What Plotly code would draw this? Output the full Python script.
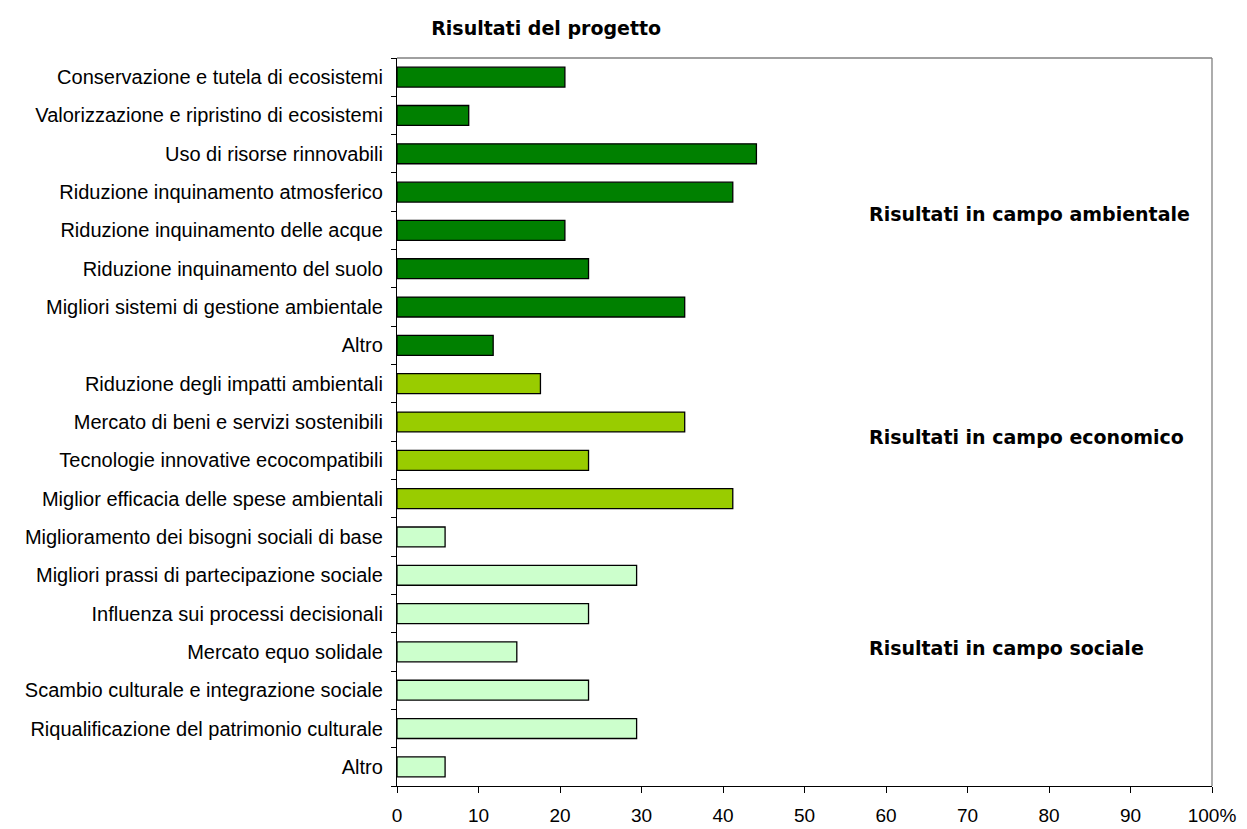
import plotly.graph_objects as go

# Categories listed top to bottom, grouped by result area
categories = [
    "Conservazione e tutela di ecosistemi",
    "Valorizzazione e ripristino di ecosistemi",
    "Uso di risorse rinnovabili",
    "Riduzione inquinamento atmosferico",
    "Riduzione inquinamento delle acque",
    "Riduzione inquinamento del suolo",
    "Migliori sistemi di gestione ambientale",
    "Altro",
    "Riduzione degli impatti ambientali",
    "Mercato di beni e servizi sostenibili",
    "Tecnologie innovative ecocompatibili",
    "Miglior efficacia delle spese ambientali",
    "Miglioramento dei bisogni sociali di base",
    "Migliori prassi di partecipazione sociale",
    "Influenza sui processi decisionali",
    "Mercato equo solidale",
    "Scambio culturale e integrazione sociale",
    "Riqualificazione del patrimonio culturale",
    "Altro",
]
values = [20.6, 8.8, 44.1, 41.2, 20.6, 23.5, 35.3, 11.8,
          17.6, 35.3, 23.5, 41.2,
          5.9, 29.4, 23.5, 14.7, 23.5, 29.4, 5.9]
group_sizes = [8, 4, 7]
group_colors = ["#008000", "#99CC00", "#CCFFCC"]
group_labels = ["Risultati in campo ambientale",
                "Risultati in campo economico",
                "Risultati in campo sociale"]
# Vertical position of each group label, in row units from the top
group_label_rows = [3.57, 9.4, 14.9]
x_ticks = [0, 10, 20, 30, 40, 50, 60, 70, 80, 90, 100]
x_tick_text = ["0", "10", "20", "30", "40", "50", "60", "70", "80", "90", "100%"]

# Unique row keys so the two "Altro" rows stay separate
row_keys = [f"r{i}" for i in range(len(categories))]
colors = []
for size, col in zip(group_sizes, group_colors):
    colors += [col] * size

font_family = "Liberation Sans, Arial, sans-serif"
bold_family = "DejaVu Sans, Verdana, sans-serif"

fig = go.Figure(go.Bar(
    x=values,
    y=row_keys,
    orientation="h",
    marker=dict(color=colors, line=dict(color="#000000", width=1.3)),
    width=0.52,
    hoverinfo="x",
))

fig.update_layout(
    width=1247, height=829,
    margin=dict(l=397, r=35, t=58, b=43),
    paper_bgcolor="white", plot_bgcolor="white",
    showlegend=False,
    font=dict(family=font_family, size=20, color="#000000"),
    title=dict(text="<b>Risultati del progetto</b>", x=0.438, xanchor="center",
               y=0.966, yanchor="middle",
               font=dict(family=bold_family, size=19, color="#000000")),
    xaxis=dict(range=[0, 100], tickvals=x_ticks, ticktext=x_tick_text,
               showgrid=False, zeroline=False, showline=True,
               linecolor="#000000", linewidth=1.3,
               ticks="outside", ticklen=6, tickcolor="#000000", tickwidth=1.3,
               ticklabelstandoff=6, automargin=False,
               tickfont=dict(size=19), fixedrange=True),
    yaxis=dict(categoryorder="array", categoryarray=row_keys,
               autorange="reversed",
               tickmode="array", tickvals=row_keys, ticktext=categories,
               tickson="boundaries",
               showgrid=False, showline=True,
               linecolor="#000000", linewidth=1.3,
               ticks="outside", ticklen=5, tickcolor="#000000", tickwidth=1.3,
               ticklabelstandoff=9, automargin=False,
               tickfont=dict(size=20), fixedrange=True),
)

# Grey frame on the top and right sides of the plot area
fig.add_shape(type="line", xref="paper", yref="paper", x0=0, x1=1, y0=1, y1=1,
              line=dict(color="#808080", width=1.3))
fig.add_shape(type="line", xref="paper", yref="paper", x0=1, x1=1, y0=0, y1=1,
              line=dict(color="#808080", width=1.3))

# Group labels placed beside each block of rows
for label, yrow in zip(group_labels, group_label_rows):
    fig.add_annotation(text=f"<b>{label}</b>", xref="x", yref="paper",
                       x=57.7, xanchor="left",
                       y=1 - (yrow + 0.5) / len(categories), yanchor="middle",
                       showarrow=False,
                       font=dict(family=bold_family, size=19, color="#000000"))

fig.write_html("out.html")
